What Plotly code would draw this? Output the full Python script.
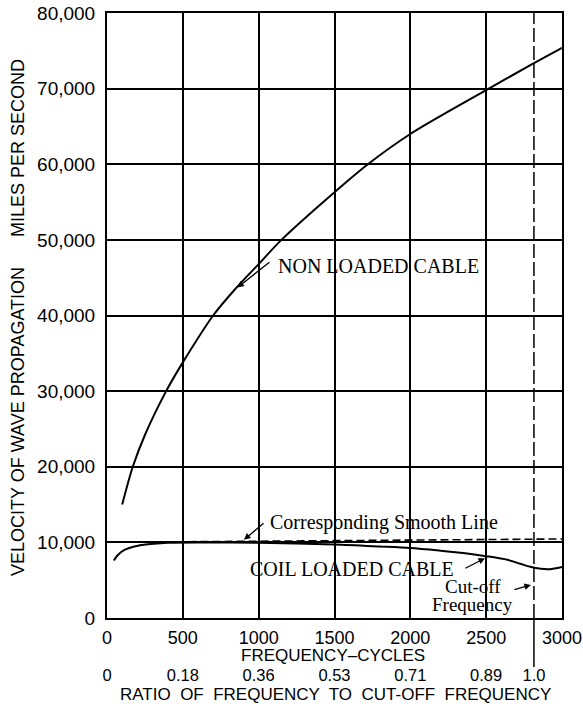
import plotly.graph_objects as go

# ---- data ----
freq_ticks = [0, 500, 1000, 1500, 2000, 2500, 3000]
vel_ticks = [0, 10000, 20000, 30000, 40000, 50000, 60000, 70000, 80000]
cutoff_freq = 2815
ratio_tick_freqs = [0, 500, 1000, 1500, 2000, 2500, 2815]
ratio_tick_text = ["0", "0.18", "0.36", "0.53", "0.71", "0.89", "1.0"]

freq_nonloaded = [100, 170, 250, 390, 500, 700, 850, 1000, 1150, 1500, 1720, 2000, 2500, 2800, 3000]
vel_nonloaded = [15000, 20000, 24200, 30000, 33800, 40000, 43600, 46800, 50000, 56300, 60000, 64000, 69800, 73200, 75400]

freq_coil = [45, 70, 115, 180, 270, 400, 600, 1000, 1500, 1800, 2000, 2200, 2350, 2500, 2640, 2725, 2790, 2860, 2920, 3000]
vel_coil = [7600, 8300, 9000, 9450, 9750, 9950, 10000, 9950, 9720, 9450, 9250, 8900, 8600, 8180, 7700, 7170, 6770, 6500, 6450, 6750]

freq_smooth = [300, 3000]
vel_smooth = [10050, 10450]

SANS = "Liberation Sans, Arial, sans-serif"
SERIF = "Liberation Serif, Times New Roman, serif"

fig = go.Figure()
fig.add_trace(go.Scatter(x=freq_nonloaded, y=vel_nonloaded, mode="lines",
                         line=dict(color="black", width=2, shape="spline", smoothing=0.8),
                         showlegend=False, hoverinfo="skip"))
fig.add_trace(go.Scatter(x=freq_coil, y=vel_coil, mode="lines",
                         line=dict(color="black", width=2, shape="spline", smoothing=0.8),
                         showlegend=False, hoverinfo="skip"))
fig.add_trace(go.Scatter(x=freq_smooth, y=vel_smooth, mode="lines",
                         line=dict(color="black", width=1.6, dash="8px,4px"),
                         showlegend=False, hoverinfo="skip"))
# invisible trace on ratio axis so it renders
fig.add_trace(go.Scatter(x=[0, 3000], y=[None, None], xaxis="x2", yaxis="y",
                         mode="lines", showlegend=False, hoverinfo="skip"))

# page body margin is removed below, so figure pixels = screen pixels
W, H = 583, 709
# target plot area on screen: left 107, right 562, top 13, bottom 618
L, T = 107, 13
R = W - 562
B = 10
pw, ph = W - L - R, H - T - B

def px_x(p):
    return (p - L) / pw

def px_y(p):
    return (H - B - p) / ph

ydom0 = px_y(618)

fig.update_layout(
    width=W, height=H,
    margin=dict(l=L, r=R, t=T, b=B, autoexpand=False),
    paper_bgcolor="white", plot_bgcolor="white",
    font=dict(family=SANS, color="black", size=17),
    xaxis=dict(range=[0, 3000], tickvals=freq_ticks, showgrid=True,
               gridcolor="black", gridwidth=1.5, showline=True, linecolor="black",
               linewidth=2, mirror=True, ticks="", zeroline=False, automargin=False,
               tickfont=dict(size=18, family=SANS), anchor="y",
               ticklabelstandoff=2, ticklabeloverflow="allow"),
    xaxis2=dict(range=[0, 3000], overlaying="x", anchor="free", automargin=False,
                position=px_y(663), tickvals=ratio_tick_freqs, ticktext=ratio_tick_text,
                showgrid=False, showline=False, ticks="", zeroline=False,
                tickfont=dict(size=16.5, family=SANS), side="bottom",
                ticklabeloverflow="allow"),
    yaxis=dict(range=[0, 80000], tickvals=vel_ticks, tickformat=",",
               domain=[ydom0, 1], showgrid=True, gridcolor="black", gridwidth=1.5,
               showline=True, linecolor="black", linewidth=2, mirror=True, automargin=False,
               ticks="", zeroline=False, tickfont=dict(size=19, family=SANS),
               ticklabelstandoff=6, ticklabeloverflow="allow"),
)

# cut-off frequency line
fig.add_shape(type="line", xref="x", yref="y", x0=cutoff_freq, x1=cutoff_freq,
              y0=0, y1=80000, line=dict(color="black", width=1.5, dash="14px,4px"))
fig.add_shape(type="line", xref="x", yref="paper", x0=cutoff_freq, x1=cutoff_freq,
              y0=px_y(667), y1=px_y(618), line=dict(color="black", width=1.5))

def vel_at(py):
    return (618 - py) / 7.5625 * 1000

ann = []
# axis titles
ann.append(dict(text="VELOCITY OF WAVE PROPAGATION" + "\u00a0" * 6 + "MILES PER SECOND",
                xref="paper", yref="paper", x=px_x(18), y=px_y(318), textangle=-90,
                showarrow=False, font=dict(family=SANS, size=18), xanchor="center", yanchor="middle"))
ann.append(dict(text="FREQUENCY\u2013CYCLES", xref="paper", yref="paper",
                x=px_x(333), y=px_y(655), showarrow=False,
                font=dict(family=SANS, size=17), xanchor="center", yanchor="middle"))
ann.append(dict(text="RATIO  OF  FREQUENCY  TO  CUT-OFF  FREQUENCY", xref="paper", yref="paper",
                x=px_x(335), y=px_y(694), showarrow=False,
                font=dict(family=SANS, size=17), xanchor="center", yanchor="middle"))

# curve labels
ann.append(dict(text="NON LOADED CABLE", x=1114, y=vel_at(266), xref="x", yref="y",
                showarrow=False, xanchor="left", yanchor="middle",
                font=dict(family=SERIF, size=20)))
ann.append(dict(text="", x=860, y=43700, ax=1081, ay=vel_at(261), xref="x", yref="y",
                axref="x", ayref="y", showarrow=True, arrowhead=2, arrowsize=1,
                arrowwidth=1.3, arrowcolor="black"))
ann.append(dict(text="Corresponding Smooth Line", x=1061, y=vel_at(522), xref="x", yref="y",
                showarrow=False, xanchor="left", yanchor="middle",
                font=dict(family=SERIF, size=20)))
ann.append(dict(text="", x=903, y=10350, ax=1042, ay=vel_at(522), xref="x", yref="y",
                axref="x", ayref="y", showarrow=True, arrowhead=2, arrowsize=1,
                arrowwidth=1.3, arrowcolor="black"))
ann.append(dict(text="COIL LOADED CABLE", x=929, y=vel_at(569), xref="x", yref="y",
                showarrow=False, xanchor="left", yanchor="middle",
                font=dict(family=SERIF, size=20)))
ann.append(dict(text="", x=2492, y=7900, ax=2353, ay=vel_at(569), xref="x", yref="y",
                axref="x", ayref="y", showarrow=True, arrowhead=2, arrowsize=1,
                arrowwidth=1.3, arrowcolor="black"))
ann.append(dict(text="Cut-off", x=2413, y=vel_at(586), xref="x", yref="y",
                showarrow=False, xanchor="center", yanchor="middle",
                font=dict(family=SERIF, size=19)))
ann.append(dict(text="Frequency", x=2413, y=vel_at(604), xref="x", yref="y",
                showarrow=False, xanchor="center", yanchor="middle",
                font=dict(family=SERIF, size=19)))
ann.append(dict(text="", x=2795, y=vel_at(585), ax=2676, ay=vel_at(590), xref="x", yref="y",
                axref="x", ayref="y", showarrow=True, arrowhead=2, arrowsize=1,
                arrowwidth=1.3, arrowcolor="black"))

fig.update_layout(annotations=ann)
fig.write_html("out.html", config={"displayModeBar": False},
               post_script="document.body.style.margin='0px';document.body.style.overflow='hidden';")
